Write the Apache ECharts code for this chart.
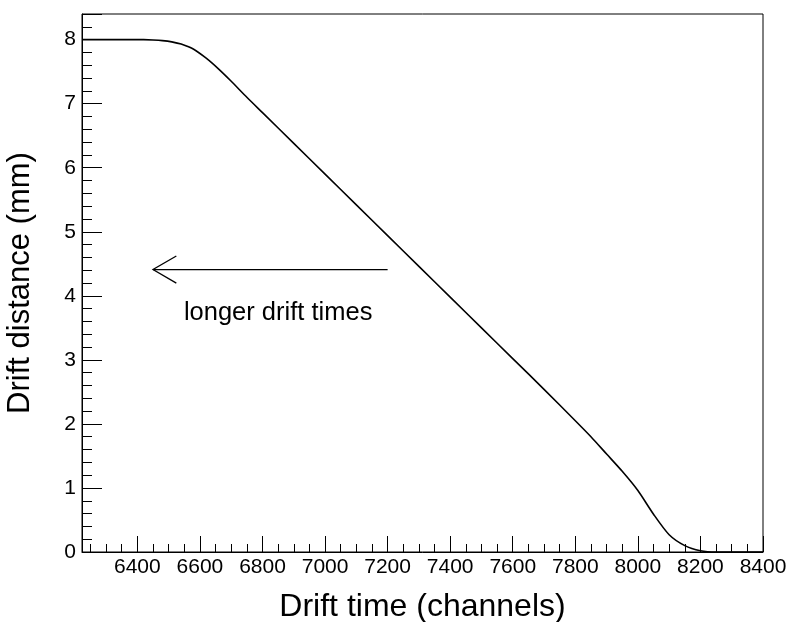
<!DOCTYPE html>
<html>
<head>
<meta charset="utf-8">
<script src="https://cdn.jsdelivr.net/npm/echarts@6/dist/echarts.min.js"></script>
<style>
  html, body { margin: 0; padding: 0; background: #fff; }
  #chart { width: 787px; height: 622px; }
</style>
</head>
<body>
<div id="chart"></div>
<script>
// Drift time (channels) vs drift distance (mm) calibration curve
const driftTime = [6223, 6300, 6350, 6400, 6420, 6450, 6480, 6510, 6540, 6580, 6620, 6660, 6700, 6750, 6800,
  6900, 7000, 7100, 7200, 7300, 7400, 7500, 7600, 7700, 7800, 7850, 7900, 7950, 8000, 8050, 8100, 8150,
  8200, 8250, 8300, 8400];
const driftDistance = [8.00, 8.00, 8.00, 8.00, 8.00, 7.995, 7.985, 7.965, 7.93, 7.85, 7.71, 7.54, 7.35, 7.10, 6.86,
  6.38, 5.90, 5.42, 4.94, 4.46, 3.98, 3.50, 3.02, 2.54, 2.05, 1.80, 1.53, 1.26, 0.96, 0.59, 0.27, 0.10,
  0.02, 0.00, 0.00, 0.00];

// Annotation arrow (from -> to) and its caption, in data coordinates
const arrowFrom = [7200, 4.41];
const arrowTo = [6450, 4.41];
const captionPos = [6850, 3.73];
const captionText = 'longer drift times';

const xTitle = 'Drift time (channels)';
const yTitle = 'Drift distance (mm)';
const xRange = [6223, 8400];
const yRange = [0, 8.4];

const FONT = '"Liberation Sans", Arial, Helvetica, sans-serif';

const chart = echarts.init(document.getElementById('chart'), null, { renderer: 'canvas' });

chart.setOption({
  animation: false,
  backgroundColor: '#fff',
  grid: {
    left: 82, top: 14, right: 24, bottom: 70,
    show: true, borderColor: '#000', borderWidth: 1,
    containLabel: false, outerBoundsMode: 'none'
  },
  xAxis: {
    type: 'value',
    min: xRange[0], max: xRange[1],
    splitNumber: 10, minInterval: 200, maxInterval: 200,
    name: xTitle, nameLocation: 'middle', nameGap: 39,
    nameTextStyle: { fontFamily: FONT, fontSize: 32, color: '#000' },
    axisLine: { show: true, onZero: false, lineStyle: { color: '#000', width: 1 } },
    axisTick: { show: true, inside: true, length: 16, lineStyle: { color: '#000', width: 1 } },
    minorTick: { show: true, splitNumber: 4, length: 8, lineStyle: { color: '#000', width: 1 } },
    axisLabel: {
      fontFamily: FONT, fontSize: 21, color: '#000', margin: 5, showMinLabel: false,
      formatter: v => String(Math.round(v))
    },
    splitLine: { show: false }
  },
  yAxis: {
    type: 'value',
    min: yRange[0], max: yRange[1], interval: 1,
    name: yTitle, nameLocation: 'middle', nameGap: 46,
    nameTextStyle: { fontFamily: FONT, fontSize: 31, color: '#000' },
    axisLine: { show: true, onZero: false, lineStyle: { color: '#000', width: 1 } },
    axisTick: { show: true, inside: true, length: 20, lineStyle: { color: '#000', width: 1 } },
    minorTick: { show: true, splitNumber: 5, length: 10, lineStyle: { color: '#000', width: 1 } },
    axisLabel: {
      fontFamily: FONT, fontSize: 21, color: '#000', margin: 6, showMaxLabel: false,
      formatter: v => String(v)
    },
    splitLine: { show: false }
  },
  series: [
    {
      type: 'line',
      data: driftTime.map((t, i) => [t, driftDistance[i]]),
      showSymbol: false,
      smooth: 0.25,
      lineStyle: { color: '#000', width: 1.6 },
      z: 3
    },
    {
      // open-headed arrow drawn from data coordinates
      type: 'custom',
      silent: true,
      z: 4,
      data: [[arrowFrom[0], arrowFrom[1], arrowTo[0], arrowTo[1]]],
      encode: { x: [0, 2], y: [1, 3] },
      renderItem: function (params, api) {
        const p0 = api.coord([api.value(0), api.value(1)]);
        const p1 = api.coord([api.value(2), api.value(3)]);
        const ang = Math.atan2(p0[1] - p1[1], p0[0] - p1[0]);
        const headLen = 27, headAng = Math.atan2(14, 24);
        const a = [p1[0] + headLen * Math.cos(ang - headAng), p1[1] + headLen * Math.sin(ang - headAng)];
        const b = [p1[0] + headLen * Math.cos(ang + headAng), p1[1] + headLen * Math.sin(ang + headAng)];
        return {
          type: 'group',
          children: [
            { type: 'line', shape: { x1: p0[0], y1: p0[1], x2: p1[0], y2: p1[1] },
              style: { stroke: '#000', lineWidth: 1.3 } },
            { type: 'polyline', shape: { points: [a, p1, b] },
              style: { stroke: '#000', fill: null, lineWidth: 1.3 } }
          ]
        };
      }
    },
    {
      // caption under the arrow
      type: 'custom',
      silent: true,
      z: 4,
      data: [captionPos],
      encode: { x: 0, y: 1 },
      renderItem: function (params, api) {
        const p = api.coord([api.value(0), api.value(1)]);
        return {
          type: 'text',
          x: p[0], y: p[1],
          style: {
            text: captionText, fontFamily: FONT, fontSize: 25.5, fill: '#000',
            align: 'center', verticalAlign: 'middle'
          }
        };
      }
    }
  ]
});
</script>
</body>
</html>
